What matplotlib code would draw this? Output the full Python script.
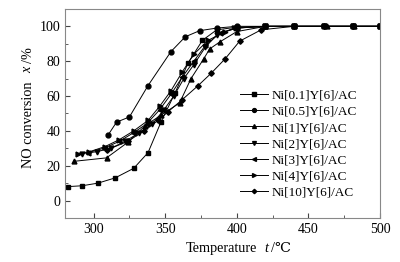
import numpy as np
import matplotlib.pyplot as plt
from matplotlib.ticker import MultipleLocator

plt.rcParams['font.family'] = ['Liberation Serif', 'DejaVu Serif']

# Ni[0.1]Y[6]/AC
t01 = [282, 292, 303, 315, 328, 338, 347, 357, 366, 376, 386, 400, 420, 440, 461, 481, 500]
x01 = [8, 8.5, 10, 13, 18.5, 27.5, 45, 62, 79, 92, 98, 99.5, 100, 100, 100, 100, 100]
# Ni[0.5]Y[6]/AC
t05 = [310, 316, 325, 338, 354, 364, 374, 386, 400, 420, 440, 461, 481, 500]
x05 = [37.5, 45, 48, 66, 85.5, 94, 97.5, 99, 100, 100, 100, 100, 100, 100]
# Ni[1]Y[6]/AC
t1 = [286, 309, 324, 336, 347, 360, 368, 377, 381, 388, 400, 420, 440, 463, 482, 500]
x1 = [22.5, 24.5, 33.5, 43, 49, 56, 70, 81.5, 87, 91, 97, 100, 100, 100, 100, 100]
# Ni[2]Y[6]/AC
t2 = [292, 302, 312, 322, 332, 341, 349, 356, 363, 370, 378, 386, 398, 420, 440, 461, 481, 500]
x2 = [27, 28, 30, 34, 39, 44, 52, 60, 70, 78, 88, 95, 99, 100, 100, 100, 100, 100]
# Ni[3]Y[6]/AC
t3 = [296, 307, 318, 328, 337, 346, 354, 362, 370, 378, 388, 400, 420, 440, 461, 481, 500]
x3 = [27.5, 30, 34, 39, 44, 52, 61, 71, 80, 89, 96, 99, 100, 100, 100, 100, 100]
# Ni[4]Y[6]/AC
t4 = [289, 297, 308, 318, 328, 338, 346, 354, 362, 370, 380, 392, 400, 420, 440, 461, 481, 500]
x4 = [27, 28, 31, 35, 40, 46, 54, 63, 74, 84, 92, 97, 99, 100, 100, 100, 100, 100]
# Ni[10]Y[6]/AC
t10 = [309, 324, 335, 345, 352, 362, 373, 382, 392, 402, 417, 440, 461, 481, 500]
x10 = [29, 34, 40, 46, 51, 58, 66, 73, 81.5, 91.5, 98, 100, 100, 100, 100]

series = [
    (t01, x01, 's', 'Ni[0.1]Y[6]/AC'),
    (t05, x05, 'o', 'Ni[0.5]Y[6]/AC'),
    (t1, x1, '^', 'Ni[1]Y[6]/AC'),
    (t2, x2, 'v', 'Ni[2]Y[6]/AC'),
    (t3, x3, '<', 'Ni[3]Y[6]/AC'),
    (t4, x4, '>', 'Ni[4]Y[6]/AC'),
    (t10, x10, 'D', 'Ni[10]Y[6]/AC'),
]

fig = plt.figure(figsize=(4, 2.62), dpi=100)
ax = fig.add_axes([0.1625, 0.168, 0.7875, 0.798])

for t, x, m, lab in series:
    ms = 2.8 if m == 'D' else 3.5
    ax.plot(t, x, color='black', marker=m, markersize=ms, linewidth=0.7, label=lab)

ax.set_xlim(280, 500)
ax.set_ylim(-10, 110)
ax.xaxis.set_major_locator(MultipleLocator(50))
ax.xaxis.set_minor_locator(MultipleLocator(25))
ax.yaxis.set_major_locator(MultipleLocator(20))
ax.yaxis.set_minor_locator(MultipleLocator(10))
ax.tick_params(which='both', direction='in', top=False, right=False, labelsize=10, color='#444444')
ax.tick_params(which='major', length=3.5)
ax.tick_params(which='minor', length=2)
for s in ax.spines.values():
    s.set_color('#888888')
    s.set_linewidth(0.8)

# axis titles built from pieces so the italic symbol and the ℃ sign both render
fig.text(0.6425, 0.053, 'Temperature', fontsize=10.3, ha='right', va='center')
fig.text(0.667, 0.053, 't', fontsize=10.3, style='italic', ha='center', va='center')
fig.text(0.678, 0.053, '/\u2103', fontsize=10.3, ha='left', va='center')

fig.text(0.07, 0.523, 'NO conversion', fontsize=10.3, rotation=90, ha='center', va='center')
fig.text(0.07, 0.735, 'x', fontsize=10.3, style='italic', rotation=90, ha='center', va='center')
fig.text(0.07, 0.79, '/%', fontsize=10.3, rotation=90, ha='center', va='center')

ax.legend(loc='upper left', frameon=False, fontsize=9.5, handlelength=2.1,
          handletextpad=0.25, labelspacing=0.3, markerscale=0.8,
          borderpad=0, borderaxespad=0, bbox_to_anchor=(0.556, 0.615))

fig.savefig('out.png', dpi=100)
